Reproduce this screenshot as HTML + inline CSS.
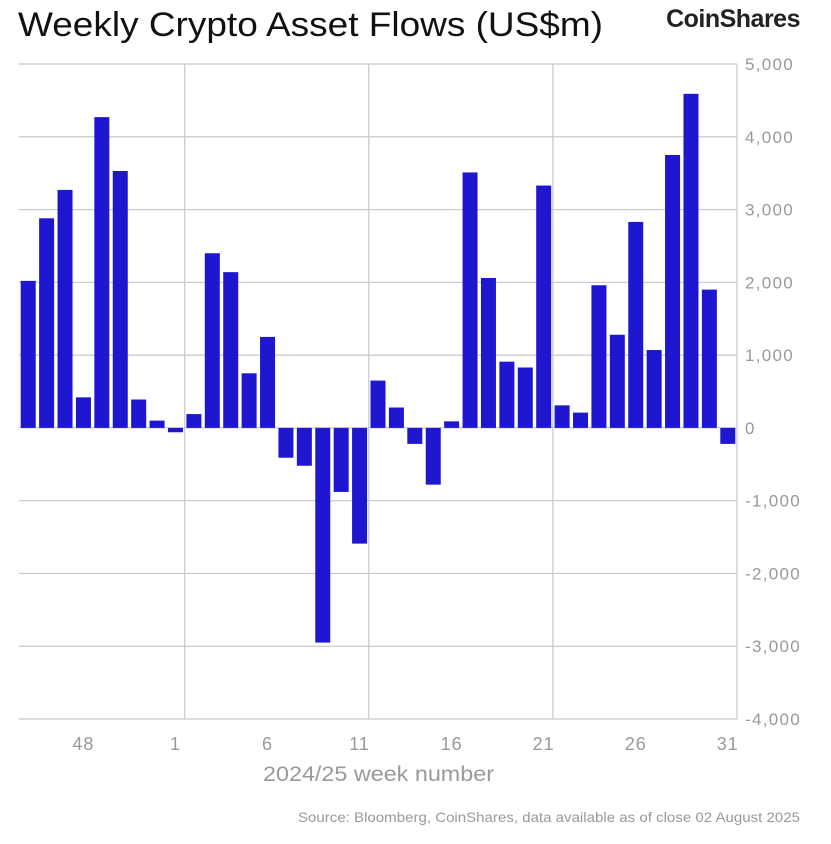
<!DOCTYPE html>
<html><head><meta charset="utf-8"><style>
body{margin:0;background:#fff;font-family:"Liberation Sans",sans-serif}
</style></head><body>
<svg id="chart" width="831" height="839" viewBox="0 0 831 839" xmlns="http://www.w3.org/2000/svg">
<text x="18" y="36" font-size="34" fill="#111" textLength="585" lengthAdjust="spacingAndGlyphs">Weekly Crypto Asset Flows (US$m)</text>
<text x="800" y="27" font-size="25" font-weight="bold" fill="#222" text-anchor="end" letter-spacing="-0.5">CoinShares</text>
<g id="grid"></g><g id="bars"></g><g id="axes"></g>
<text x="263" y="781" font-size="21" fill="#999" textLength="231" lengthAdjust="spacingAndGlyphs">2024/25 week number</text>
<text x="298" y="822" font-size="14" fill="#999" textLength="502" lengthAdjust="spacingAndGlyphs">Source: Bloomberg, CoinShares, data available as of close 02 August 2025</text>
</svg>
<script>
const weeks=[45,46,47,48,49,50,51,52,1,2,3,4,5,6,7,8,9,10,11,12,13,14,15,16,17,18,19,20,21,22,23,24,25,26,27,28,29,30,31];
const flows=[2020,2880,3270,420,4270,3530,390,100,-60,190,2400,2140,750,1250,-410,-520,-2950,-880,-1590,650,280,-220,-780,90,3510,2060,910,830,3330,310,210,1960,1280,2830,1070,3750,4590,1900,-220];
const yTicks=[5000,4000,3000,2000,1000,0,-1000,-2000,-3000,-4000];
const xLabels=[48,1,6,11,16,21,26,31];
const NS="http://www.w3.org/2000/svg";
const L=19,R=737,yMax=5000,yMin=-4000,T=64,B=719;
const step=(R-L)/weeks.length;
const y=v=>T+(yMax-v)/(yMax-yMin)*(B-T);
const x=i=>L+step*i;
function mk(t,a,p){const e=document.createElementNS(NS,t);for(const k in a)e.setAttribute(k,a[k]);p.appendChild(e);return e;}
const g=document.getElementById('grid'),b=document.getElementById('bars'),ax=document.getElementById('axes');
yTicks.forEach(v=>{
 const l=mk('line',{x1:L,x2:R,y1:y(v),y2:y(v),stroke:'#c8c8c8','stroke-width':1.2},g);
 
 
 const t=mk('text',{x:R+8,y:y(v)+6,'font-size':17,fill:'#999','letter-spacing':1.3},ax);
 t.textContent=v.toLocaleString('en-US');
 
 
});
for(let i=9;i<weeks.length;i+=10){
 const l=mk('line',{x1:x(i),x2:x(i),y1:T,y2:B,stroke:'#c8c8c8','stroke-width':1.2},g);
 
 
}
const rl=mk('line',{x1:R,x2:R,y1:T,y2:B,stroke:'#c8c8c8','stroke-width':1.2},g);


flows.forEach((v,i)=>{
 const y0=y(0),yv=y(v);
 const r=mk('rect',{x:x(i)+1.7,width:step-3.4,y:Math.min(y0,yv),height:Math.abs(yv-y0),fill:'#1f17d0'},b);
 
 
});
xLabels.forEach(w=>{
 const i=weeks.indexOf(w);
 const t=mk('text',{x:x(i)+step/2,y:750,'font-size':18,fill:'#999','text-anchor':'middle','letter-spacing':1},ax);
 t.textContent=w;
 
 
});
</script>
</body></html>
